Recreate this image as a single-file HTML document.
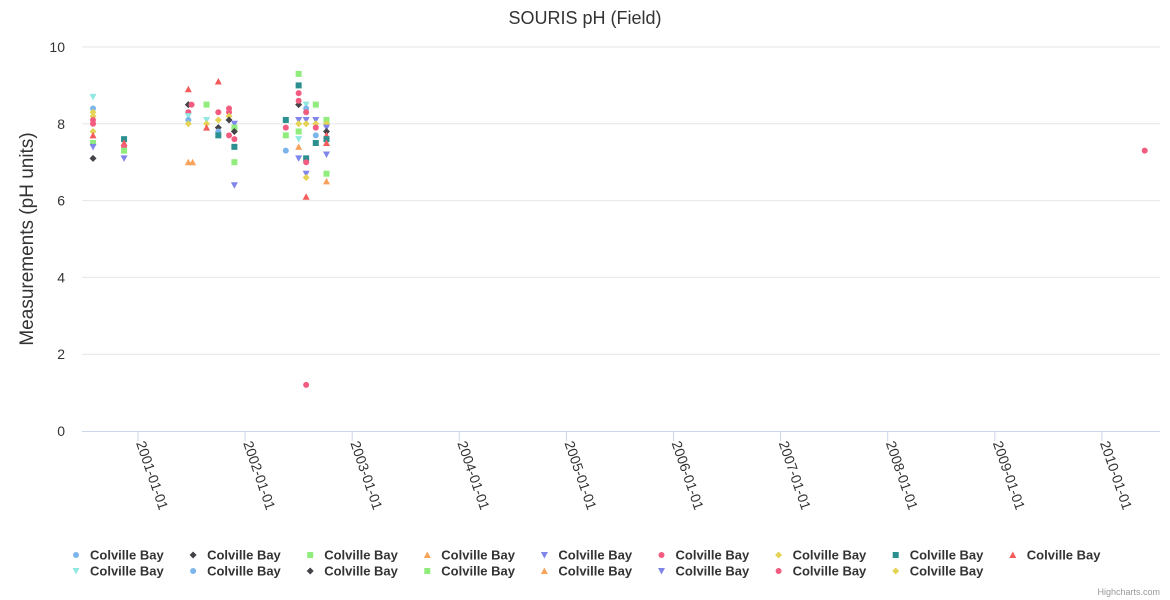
<!DOCTYPE html>
<html><head><meta charset="utf-8"><style>
body{margin:0;background:#fff;}
svg{font-family:"Liberation Sans",sans-serif;display:block}
</style></head><body>
<svg id="c" width="1170" height="600">
<rect width="1170" height="600" fill="#fff"/>
<text x="585" y="24" text-anchor="middle" font-size="18" fill="#333">SOURIS pH (Field)</text>
<text transform="translate(33,239) rotate(-90)" text-anchor="middle" font-size="19" fill="#333">Measurements (pH units)</text>
<g id="grid"></g><g id="xax"></g><g id="pts"></g><g id="leg"></g>
<text x="1160" y="595" text-anchor="end" font-size="9" fill="#999">Highcharts.com</text>
</svg>
<script>
const yTicks=[0,2,4,6,8,10];
const xTickYears=[2001,2002,2003,2004,2005,2006,2007,2008,2009,2010];
const xTickLabels=["2001-01-01","2002-01-01","2003-01-01","2004-01-01","2005-01-01","2006-01-01","2007-01-01","2008-01-01","2009-01-01","2010-01-01"];
const seriesNames=["Colville Bay","Colville Bay","Colville Bay","Colville Bay","Colville Bay","Colville Bay","Colville Bay","Colville Bay","Colville Bay","Colville Bay","Colville Bay","Colville Bay","Colville Bay","Colville Bay","Colville Bay","Colville Bay","Colville Bay"];
// point series index, date (fractional year), value
const ptSeries=[9,0,5,6,6,5,6,8,2,4,1, 7,8,5,2,4, 8,1,5,5,9,0,6,3,3, 2,9,6,8, 8,5,6,1,0,7, 5,5,6,1,5, 4,2,1,5,7,2,4, 7,5,2,0, 2,7,5,1,5,4,6,2,9,3,4, 9,0,5,4,6,7,5,4,6,8,5, 2,4,6,5,0,7, 2,6,4,1,8,7,8,4,2,3, 5];
const ptDate=[2000.58,2000.58,2000.58,2000.58,2000.58,2000.58,2000.58,2000.58,2000.58,2000.58,2000.58, 2000.87,2000.87,2000.87,2000.87,2000.87, 2001.47,2001.47,2001.50,2001.47,2001.47,2001.47,2001.47,2001.47,2001.51, 2001.64,2001.64,2001.64,2001.64, 2001.75,2001.75,2001.75,2001.75,2001.75,2001.75, 2001.85,2001.85,2001.85,2001.85,2001.85, 2001.90,2001.90,2001.90,2001.90,2001.90,2001.90,2001.90, 2002.38,2002.38,2002.38,2002.38, 2002.50,2002.50,2002.50,2002.50,2002.50,2002.50,2002.50,2002.50,2002.50,2002.50,2002.50, 2002.57,2002.57,2002.57,2002.57,2002.57,2002.57,2002.57,2002.57,2002.57,2002.57,2002.57, 2002.66,2002.66,2002.66,2002.66,2002.66,2002.66, 2002.76,2002.76,2002.76,2002.76,2002.76,2002.76,2002.76,2002.76,2002.76,2002.76, 2010.40];
const ptValue=[8.7,8.4,8.0,8.2,7.8,8.1,8.3,7.7,7.5,7.4,7.1, 7.6,7.5,7.4,7.3,7.1, 8.9,8.5,8.5,8.3,8.2,8.1,8.0,7.0,7.0, 8.5,8.1,8.0,7.9, 9.1,8.3,8.1,7.9,7.8,7.7, 8.4,8.3,8.2,8.1,7.7, 8.0,7.9,7.8,7.6,7.4,7.0,6.4, 8.1,7.9,7.7,7.3, 9.3,9.0,8.8,8.5,8.6,8.1,8.0,7.8,7.6,7.4,7.1, 8.5,8.4,8.3,8.1,8.0,7.1,7.0,6.7,6.6,6.1,1.2, 8.5,8.1,8.0,7.9,7.7,7.5, 8.1,8.0,7.9,7.8,7.7,7.6,7.5,7.2,6.7,6.5, 7.3];
const colors=["#7cb5ec","#434348","#90ed7d","#f7a35c","#8085e9","#f15c80","#e4d354","#2b908f","#f45b5b","#91e8e1"];
const shapes=["circle","diamond","square","triangle","tdown"];
const NS="http://www.w3.org/2000/svg";
const L=82,R=1160,T=47,B=431;
const xs=y=>138+(y-2001)*107.1;
const ys=v=>B-(v/10)*(B-T);
function mk(t,a,p){const e=document.createElementNS(NS,t);for(const k in a)e.setAttribute(k,a[k]);p.appendChild(e);return e;}
function sym(i,x,y,p){
 const c=colors[i%10],s=shapes[i%5];let e;
 if(s==="circle")e=mk("circle",{cx:x,cy:y,r:3,fill:c},p);
 else if(s==="square")e=mk("rect",{x:x-3,y:y-3,width:6,height:6,fill:c},p);
 else if(s==="diamond")e=mk("path",{d:`M${x},${y-3.5}L${x+3.5},${y}L${x},${y+3.5}L${x-3.5},${y}Z`,fill:c},p);
 else if(s==="triangle")e=mk("path",{d:`M${x},${y-3.5}L${x+3.5},${y+3}L${x-3.5},${y+3}Z`,fill:c},p);
 else e=mk("path",{d:`M${x-3.5},${y-3}L${x+3.5},${y-3}L${x},${y+3.5}Z`,fill:c},p);
 return e;}
const g=document.getElementById("grid");
yTicks.forEach(v=>{
 if(v>0){const l=mk("line",{x1:L,x2:R,y1:ys(v),y2:ys(v),stroke:"#e6e6e6"},g);
 
 }
 const t=mk("text",{x:65,y:ys(v)+5,"text-anchor":"end","font-size":14,fill:"#333"},g);t.textContent=v;
 
 
});
const xa=document.getElementById("xax");
const al=mk("line",{x1:L,x2:R,y1:B+0.5,y2:B+0.5,stroke:"#ccd6eb"},xa);


xTickYears.forEach((yr,i)=>{
 const x=xs(yr);
 const tk=mk("line",{x1:x,x2:x,y1:B,y2:B+10,stroke:"#ccd6eb"},xa);
 
 
 const t=mk("text",{transform:`translate(${x-2},${443}) rotate(71)`,"font-size":14,fill:"#333"},xa);
 t.textContent=xTickLabels[i];
 
 
});
const pg=document.getElementById("pts");
ptSeries.forEach((s,i)=>{
 const e=sym(s,xs(ptDate[i]),ys(ptValue[i]),pg);
 
 
});
const lg=document.getElementById("leg");
seriesNames.forEach((n,i)=>{
 const row=i<9?0:1,col=i<9?i:i-9;
 const x=76+col*117.1,y=555+row*16;
 const grp=mk("g",{},lg);
 
 
 sym(i,x,y,grp);
 const t=mk("text",{x:x+14,y:y+4.5,"font-size":13,"font-weight":"bold",fill:"#333"},grp);t.textContent=n;
});
</script>
</body></html>
